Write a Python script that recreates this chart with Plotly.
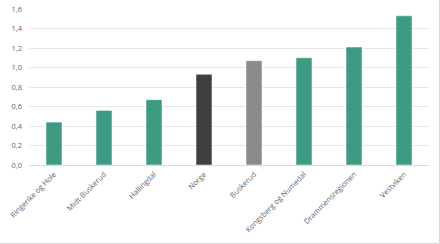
import plotly.graph_objects as go

categories = ["Ringerike og Hole", "Midt-Buskerud", "Hallingdal", "Norge", "Buskerud",
              "Kongsberg og Numedal", "Drammensregionen", "Vestviken"]
values = [0.44, 0.56, 0.67, 0.93, 1.07, 1.10, 1.21, 1.53]
colors = ["#3f9a84", "#3f9a84", "#3f9a84", "#404040", "#8b8a8e", "#3f9a84", "#3f9a84", "#3f9a84"]
tickvals = [0, 0.2, 0.4, 0.6, 0.8, 1.0, 1.2, 1.4, 1.6]
ticktext = ["0,0", "0,2", "0,4", "0,6", "0,8", "1,0", "1,2", "1,4", "1,6"]

fig = go.Figure(go.Bar(x=categories, y=values, marker_color=colors,
                       marker_line=dict(color="rgba(255,255,255,0.5)", width=1), width=0.32))
fig.update_layout(
    width=440, height=244,
    margin=dict(l=29, r=11, t=9, b=79),
    paper_bgcolor="white", plot_bgcolor="white",
    font=dict(family="Open Sans, Arial", size=7.5, color="#666666"),
    showlegend=False, bargap=0.68,
    xaxis=dict(tickangle=-45, showgrid=False, showline=True, linecolor="#d9d9d9",
               automargin=False,
               ticks="", ticklabelstandoff=1, tickfont=dict(size=7.5, color="#666666")),
    yaxis=dict(range=[0, 1.6], tickvals=tickvals, ticktext=ticktext, showgrid=True,
               automargin=False,
               gridcolor="#e6e6e6", gridwidth=1, zeroline=False, ticks="",
               ticklabelstandoff=6, tickfont=dict(size=7.5, color="#666666")),
    shapes=[dict(type="rect", xref="paper", yref="paper", x0=-40/400, x1=1+10.5/400,
                 y0=-78.5/156, y1=1+20/156, line=dict(color="#d9d9d9", width=1))],
)
fig.write_html("out.html")
